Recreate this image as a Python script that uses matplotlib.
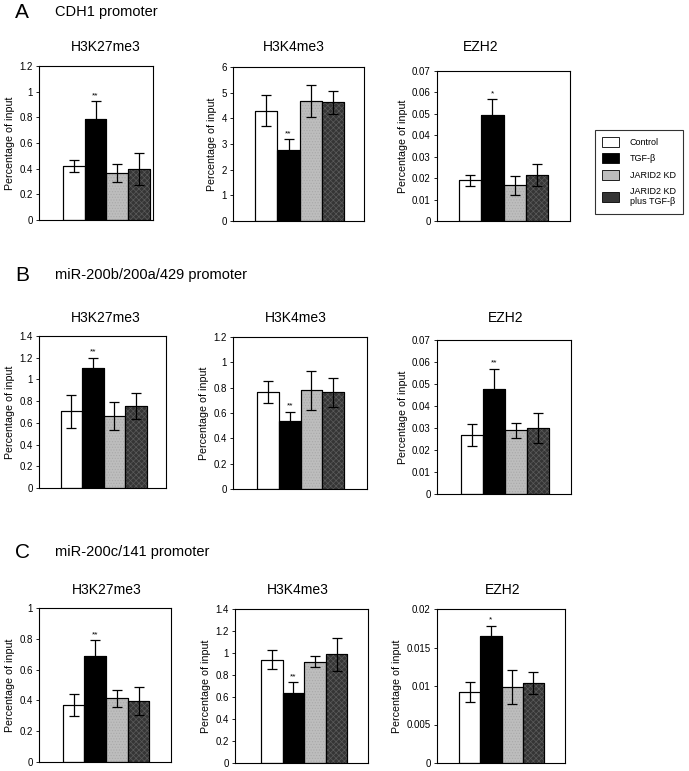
import matplotlib
matplotlib.use("Agg")
import matplotlib.pyplot as plt
from matplotlib.patches import Patch
from matplotlib.ticker import MultipleLocator, FuncFormatter

plt.rcParams['font.family'] = ['Liberation Sans', 'DejaVu Sans']
plt.rcParams['hatch.linewidth'] = 0.5

groups = ["Control", "TGF-β", "JARID2 KD", "JARID2 KD\nplus TGF-β"]
colors = ["white", "black", "#bdbdbd", "#353535"]
hatch_colors = [None, None, "#a9a9a9", "#5a5a5a"]
hatches = [None, None, "......", "xxxxxx"]

sections = ["CDH1 promoter", "miR-200b/200a/429 promoter", "miR-200c/141 promoter"]
letters = ["A", "B", "C"]
marks = ["H3K27me3", "H3K4me3", "EZH2"]

# means and errors, one row per section, one entry per mark
a_vals = [[0.42, 0.785, 0.365, 0.40], [4.3, 2.75, 4.67, 4.62], [0.019, 0.0496, 0.0166, 0.0215]]
a_errs = [[0.045, 0.14, 0.07, 0.125], [0.59, 0.43, 0.63, 0.44], [0.0027, 0.0073, 0.0045, 0.005]]
b_vals = [[0.705, 1.105, 0.665, 0.755], [0.766, 0.539, 0.779, 0.763], [0.0269, 0.0477, 0.0289, 0.0301]]
b_errs = [[0.152, 0.095, 0.127, 0.117], [0.087, 0.072, 0.155, 0.112], [0.005, 0.0092, 0.0033, 0.0068]]
c_vals = [[0.37, 0.689, 0.413, 0.396], [0.94, 0.64, 0.922, 0.99], [0.00918, 0.01645, 0.00991, 0.0104]]
c_errs = [[0.074, 0.10, 0.054, 0.09], [0.084, 0.095, 0.05, 0.15], [0.0013, 0.0014, 0.0022, 0.0014]]

a_ylim = [(1.2, 0.2), (6, 1), (0.07, 0.01)]
b_ylim = [(1.4, 0.2), (1.2, 0.2), (0.07, 0.01)]
c_ylim = [(1.0, 0.2), (1.4, 0.2), (0.02, 0.005)]

a_sig = ["**", "**", "*"]
b_sig = ["**", "**", "**"]
c_sig = ["**", "**", "*"]

vals = [a_vals, b_vals, c_vals]
errs = [a_errs, b_errs, c_errs]
ylims = [a_ylim, b_ylim, c_ylim]
sigs = [a_sig, b_sig, c_sig]

W, H = 689, 771
# axes boxes in pixels: left, top, right, bottom
boxes = [
    [(39, 66, 153, 220), (233, 67, 364, 221), (437, 71, 570, 221)],
    [(39, 336, 166, 488), (233, 337, 367, 489), (437, 340, 571, 494)],
    [(39, 608, 171, 762), (235, 609, 368, 763), (437, 609, 565, 763)],
]
xlims = [
    [(-1.6, 3.64), (-1.5, 4.4), (-1.5, 4.5)],
    [(-1.5, 4.4), (-1.6, 4.55), (-1.6, 4.5)],
    [(-1.6, 4.5), (-1.7, 4.45), (-1.55, 4.5)],
]
title_x = [[106, 294, 481], [106, 296, 506], [107, 298, 503]]
title_y = [47, 318, 590]
section_y = [12, 275, 552]

fig = plt.figure(figsize=(W / 100, H / 100), dpi=100)


def fmt(v, pos):
    return "%g" % round(v, 6)


x = [0, 1, 2, 3]
for r in range(3):
    fig.text(15 / W, 1 - section_y[r] / H, letters[r], fontsize=15, va="center", ha="left")
    fig.text(55 / W, 1 - section_y[r] / H, sections[r], fontsize=10.5, va="center", ha="left")
    for c in range(3):
        l, t, rr, b = boxes[r][c]
        ax = fig.add_axes([l / W, 1 - b / H, (rr - l) / W, (b - t) / H])
        v = vals[r][c]
        e = errs[r][c]
        ax.bar(x, v, width=1.0, color=colors, edgecolor="black", linewidth=0.8, zorder=2)
        for i in range(4):
            if hatches[i]:
                ax.bar(x[i], v[i], width=1.0, color="none", edgecolor=hatch_colors[i],
                       hatch=hatches[i], linewidth=0, zorder=2.1)
        ax.bar(x, v, width=1.0, color="none", edgecolor="black", linewidth=0.8, zorder=2.2)
        ax.errorbar(x, v, yerr=e, fmt="none", ecolor="black", elinewidth=0.9,
                    capsize=3.5, capthick=0.9, zorder=3)
        top = v[1] + e[1]
        ax.annotate(sigs[r][c], (1, top), xytext=(0, 1.5), textcoords="offset points",
                    ha="center", va="bottom", fontsize=6)
        ymax, step = ylims[r][c]
        ax.set_ylim(0, ymax)
        ax.set_xlim(*xlims[r][c])
        ax.yaxis.set_major_locator(MultipleLocator(step))
        ax.yaxis.set_major_formatter(FuncFormatter(fmt))
        ax.set_xticks([])
        ax.tick_params(axis="y", labelsize=7, length=2.5, width=0.6, pad=2, direction="out")
        for s in ax.spines.values():
            s.set_linewidth(0.8)
        fig.text(title_x[r][c] / W, 1 - title_y[r] / H, marks[c], fontsize=10,
                 ha="center", va="center")
        ax.set_ylabel("Percentage of input", fontsize=7.7, labelpad=3)

handles = [Patch(facecolor=colors[i], edgecolor="black", linewidth=0.6) for i in range(4)]
leg = fig.legend(handles, groups, loc="upper left", bbox_to_anchor=(590 / W, 1 - 125 / H),
                 fontsize=6.5, frameon=True, fancybox=False, edgecolor="black",
                 handlelength=1.9, handleheight=1.3, labelspacing=0.75, borderpad=0.8,
                 handletextpad=1.2)
leg.get_frame().set_linewidth(0.8)

fig.savefig("out.png", dpi=100, facecolor="white")
